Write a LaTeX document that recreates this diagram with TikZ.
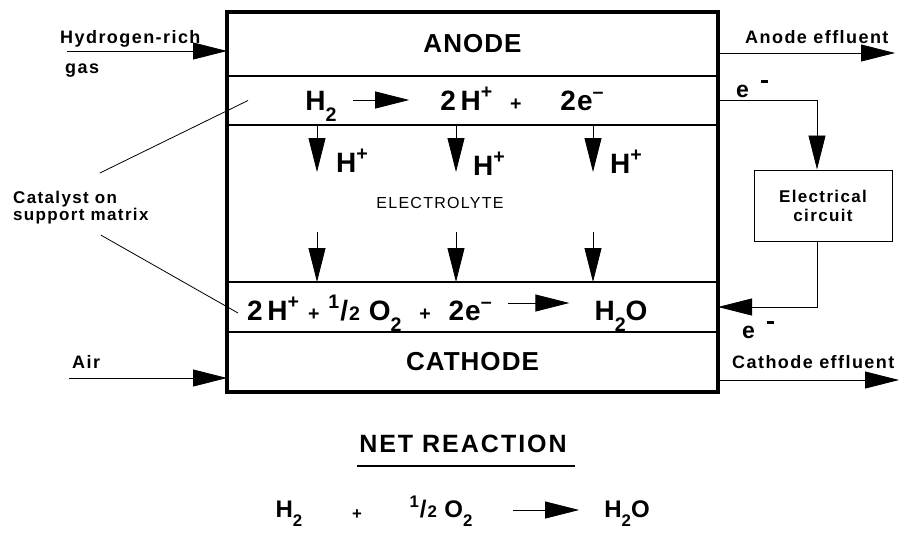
\documentclass[tikz,border=0pt]{standalone}
\usepackage{fontspec}
\usepackage{graphicx}
\usepackage{tikz}
\usetikzlibrary{arrows.meta,positioning,calc}
\setmainfont{Liberation Sans}
\newfontfamily\bigfont{Liberation Sans}[LetterSpace=4]
\newfontfamily\lblfont{Liberation Sans}[LetterSpace=8]
\newcommand{\chemsub}[1]{\raisebox{-0.4em}{\scalebox{0.7}{#1}}}
\newcommand{\chemsup}[1]{\raisebox{0.4em}{\scalebox{0.7}{#1}}}
\newcommand{\halfmark}{\chemsup{1}\kern1pt/\kern1pt\scalebox{0.7}{2}}
\newcommand{\smallplus}{\scalebox{0.7}{+}}
\newcommand{\eminus}{e\hspace{12pt}\rule[14pt]{7pt}{2.6pt}}

\begin{document}
\begin{tikzpicture}[x=1pt,y=-1pt,
  layer/.style={draw,line width=1.2pt,minimum width=491pt,inner sep=0pt,outer sep=0pt,
                font=\bigfont\bfseries\fontsize{26}{28}\selectfont},
  rx/.style={font=\bigfont\bfseries\fontsize{28}{30}\selectfont,inner sep=0pt},
  lbl/.style={font=\lblfont\bfseries\fontsize{18}{20}\selectfont,inner sep=0pt},
  big/.style={font=\lblfont\bfseries\fontsize{25}{27}\selectfont,inner sep=0pt},
  neq/.style={font=\bigfont\bfseries\fontsize{24}{26}\selectfont,inner sep=0pt,anchor=base},
  arr/.style={->,>={Triangle[length=34pt,width=17pt]},line width=0.8pt},
  wire/.style={line width=0.8pt}
]
\useasboundingbox (0,0) rectangle (901,533);

% Cell layers, top to bottom (y grows downward)
\node[layer,minimum height=64pt] (anode) at (472.5,44) {ANODE};
\node[layer,minimum height=49pt,below=0pt of anode] (anodecat) {};
\node[layer,minimum height=157pt,below=0pt of anodecat] (electrolyte) {};
\node[layer,minimum height=50pt,below=0pt of electrolyte] (cathodecat) {};
\node[layer,minimum height=60pt,below=0pt of cathodecat] (cathode) {CATHODE};
\draw[line width=3.5pt] (anode.north west) rectangle (cathode.south east);

% Anode reaction
\node[rx,anchor=base] (ah2) at (321,110) {H\chemsub{2}};
\node[rx,anchor=base] (aprod) at (481,110) {2\,H\chemsup{+}\ \ \smallplus};
\node[rx,anchor=base] (ael) at (582,110) {2e\chemsup{\textendash}};
\draw[arr] ($(ah2.base east)+(16,-10)$) -- ($(aprod.base west)+(-31,-10)$);

% Protons through the electrolyte
\foreach \x [count=\i] in {317,456,593} {
  \coordinate (col\i) at (\x,0);
  \draw[arr] (col\i |- anodecat.south) -- ++(0,47);
  \draw[arr] ($(col\i |- cathodecat.north)+(0,-50)$) -- (col\i |- cathodecat.north);
}
\node[rx,anchor=base] (hp1) at (352,172) {H\chemsup{+}};
\node[rx,anchor=base] (hp2) at (489,175) {H\chemsup{+}};
\node[rx,anchor=base] (hp3) at (626,173) {H\chemsup{+}};
\node[font=\lblfont\fontsize{16}{18}\selectfont,inner sep=0pt] (elabel) at (440,203) {ELECTROLYTE};

% Cathode reaction
\node[rx,anchor=base west] (clhs) at (247,320)
  {2\,H\chemsup{+} \smallplus\ \halfmark\ O\chemsub{2}\ \ \smallplus\ \ 2e\chemsup{\textendash}};
\node[rx,anchor=base] (cwater) at (621,320) {H\chemsub{2}O};
\draw[arr] ($(clhs.base east)+(16,-17)$) -- ($(cwater.base west)+(-25,-17)$);

% Feeds on the left
\node[lbl,anchor=base west] (h2in) at (60,43) {Hydrogen-rich};
\node[lbl,anchor=base west] (gas) at (65,73) {gas};
\coordinate (h2tail) at (67,51);
\draw[arr] (h2tail) -- (h2tail -| anode.west);
\node[lbl,anchor=base west] (air) at (72,368) {Air};
\coordinate (airtail) at (69,378);
\draw[arr] (airtail) -- (airtail -| cathode.west);

% Catalyst callout
\node[lbl,anchor=north west,align=left,font=\lblfont\bfseries\fontsize{17}{15}\selectfont]
  (cat) at (13,191) {Catalyst on\\support matrix};
\draw[wire] ($(cat.north)+(19,-18)$) -- ($(anodecat.west)+(21,0)$);
\draw[wire] ($(cat.south)+(20,11)$) -- ($(cathodecat.west)+(11,6)$);

% Effluents on the right
\node[lbl,anchor=base west] (aeff) at (745,43) {Anode effluent};
\coordinate (aefftip) at (895,53);
\draw[arr] (aefftip -| anode.east) -- (aefftip);
\node[lbl,anchor=base west] (ceff) at (732,368) {Cathode effluent};
\coordinate (cefftip) at (899,380);
\draw[arr] (cefftip -| cathode.east) -- (cefftip);

% External circuit
\node[draw,line width=1pt,minimum width=138pt,minimum height=71pt,align=center,
      font=\lblfont\bfseries\fontsize{17}{19}\selectfont] (circ) at (823,205.5) {Electrical\\circuit};
\draw[arr] (anodecat.east) -| ([xshift=-6pt]circ.north);
\draw[arr] ([xshift=-6pt]circ.south) |- (cathodecat.east);
\node[lbl,anchor=base west,font=\lblfont\bfseries\fontsize{23}{25}\selectfont]
  (eup) at (736,97) {\eminus};
\node[lbl,anchor=base west,font=\lblfont\bfseries\fontsize{23}{25}\selectfont]
  (edown) at (742,338) {\eminus};

% Net reaction
\node[big,anchor=base] (net) at (463,452) {NET REACTION};
\draw[line width=1.3pt] ($(net.base west)+(-2,14)$) -- ($(net.base east)+(8,14)$);
\node[neq] (nh2) at (289,517) {H\chemsub{2}};
\node[neq] (nplus) at (357,519) {\smallplus};
\node[neq] (nhalf) at (441,517) {\halfmark\ O\chemsub{2}};
\node[neq] (nwater) at (627,517) {H\chemsub{2}O};
\draw[arr] ($(nhalf.base east)+(40,-7)$) -- ($(nwater.base west)+(-25,-7)$);
\end{tikzpicture}
\end{document}
